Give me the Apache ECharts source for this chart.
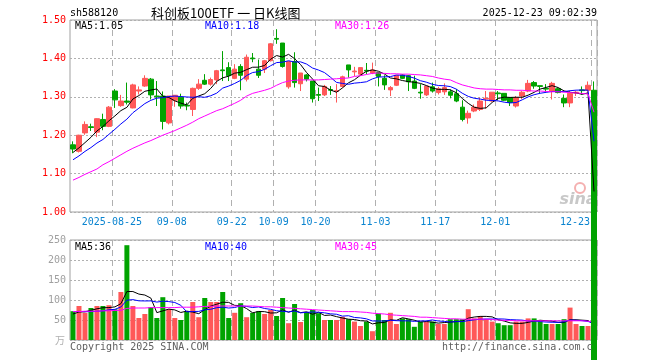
<!DOCTYPE html>
<html><head><meta charset="utf-8">
<script src="https://cdn.jsdelivr.net/npm/echarts@6/dist/echarts.min.js"></script>
<style>html,body{margin:0;padding:0;background:#fff}#c{width:660px;height:360px}</style>
</head><body><div id="c"></div>
<script>
const dates = [
'2025-08-14','2025-08-15','2025-08-18','2025-08-19','2025-08-20','2025-08-21','2025-08-22',
'2025-08-25','2025-08-26','2025-08-27','2025-08-28','2025-08-29',
'2025-09-01','2025-09-02','2025-09-03','2025-09-04','2025-09-05',
'2025-09-08','2025-09-09','2025-09-10','2025-09-11','2025-09-12',
'2025-09-15','2025-09-16','2025-09-17','2025-09-18','2025-09-19',
'2025-09-22','2025-09-23','2025-09-24','2025-09-25','2025-09-26',
'2025-09-29','2025-09-30',
'2025-10-09','2025-10-10',
'2025-10-13','2025-10-14','2025-10-15','2025-10-16','2025-10-17',
'2025-10-20','2025-10-21','2025-10-22','2025-10-23','2025-10-24',
'2025-10-27','2025-10-28','2025-10-29','2025-10-30','2025-10-31',
'2025-11-03','2025-11-04','2025-11-05','2025-11-06','2025-11-07',
'2025-11-10','2025-11-11','2025-11-12','2025-11-13','2025-11-14',
'2025-11-17','2025-11-18','2025-11-19','2025-11-20','2025-11-21',
'2025-11-24','2025-11-25','2025-11-26','2025-11-27','2025-11-28',
'2025-12-01','2025-12-02','2025-12-03','2025-12-04','2025-12-05',
'2025-12-08','2025-12-09','2025-12-10','2025-12-11','2025-12-12',
'2025-12-15','2025-12-16','2025-12-17','2025-12-18','2025-12-19',
'2025-12-22','2025-12-23'];

const opens = [
1.175,1.158,1.206,1.222,1.208,1.241,1.223,1.315,1.277,1.289,
1.271,1.315,1.328,1.346,1.302,1.302,1.232,1.291,1.299,1.278,
1.267,1.322,1.343,1.333,1.344,1.370,1.376,1.348,1.379,1.346,
1.401,1.372,1.372,1.394,1.452,1.440,1.326,1.392,1.334,1.357,
1.341,1.306,1.305,1.319,1.314,1.327,1.383,1.365,1.359,1.369,
1.362,1.363,1.348,1.318,1.330,1.357,1.355,1.341,1.312,1.305,
1.326,1.311,1.313,1.313,1.308,1.273,1.245,1.263,1.267,1.294,
1.289,1.310,1.309,1.298,1.276,1.302,1.315,1.337,1.329,1.322,
1.315,1.321,1.296,1.284,1.310,1.318,1.317,1.317];
const closes = [
1.164,1.200,1.228,1.220,1.243,1.223,1.273,1.292,1.289,1.286,
1.331,1.318,1.348,1.305,1.300,1.236,1.302,1.304,1.276,1.276,
1.322,1.333,1.333,1.345,1.368,1.368,1.355,1.372,1.356,1.403,
1.399,1.356,1.394,1.438,1.450,1.379,1.392,1.337,1.362,1.346,
1.295,1.304,1.327,1.317,1.316,1.352,1.370,1.367,1.376,1.367,
1.370,1.353,1.331,1.324,1.356,1.348,1.339,1.322,1.310,1.328,
1.315,1.321,1.324,1.304,1.289,1.241,1.257,1.273,1.289,1.296,
1.312,1.308,1.291,1.285,1.298,1.312,1.335,1.328,1.327,1.320,
1.335,1.311,1.284,1.309,1.312,1.316,1.330,0];
const lows = [
1.153,1.155,1.201,1.211,1.195,1.213,1.221,1.271,1.274,1.280,
1.270,1.306,1.326,1.293,1.276,1.215,1.228,1.274,1.269,1.265,
1.250,1.318,1.331,1.329,1.333,1.341,1.341,1.346,1.317,1.340,
1.390,1.349,1.362,1.392,1.438,1.376,1.321,1.324,1.315,1.340,
1.285,1.289,1.302,1.305,1.285,1.324,1.350,1.354,1.355,1.359,
1.359,1.327,1.318,1.302,1.328,1.346,1.315,1.320,1.295,1.302,
1.311,1.306,1.305,1.296,1.286,1.236,1.230,1.260,1.263,1.269,
1.287,1.291,1.289,1.276,1.272,1.294,1.312,1.321,1.309,1.312,
1.293,1.309,1.273,1.273,1.302,1.306,1.311,0];
const highs = [
1.184,1.201,1.236,1.230,1.244,1.256,1.276,1.320,1.305,1.337,
1.334,1.327,1.356,1.349,1.341,1.314,1.302,1.304,1.308,1.285,
1.324,1.346,1.359,1.350,1.370,1.419,1.390,1.385,1.385,1.410,
1.414,1.397,1.396,1.440,1.476,1.440,1.392,1.416,1.362,1.359,
1.341,1.324,1.331,1.328,1.333,1.355,1.383,1.378,1.376,1.388,
1.389,1.363,1.356,1.328,1.356,1.359,1.357,1.355,1.333,1.328,
1.337,1.326,1.335,1.319,1.320,1.291,1.264,1.280,1.298,1.315,
1.312,1.315,1.309,1.298,1.302,1.315,1.344,1.341,1.329,1.333,
1.339,1.324,1.306,1.315,1.315,1.327,1.340,1.340];
const volumes = [
72,85,68,80,85,85,87,77,120,237,
85,55,65,82,55,107,77,55,50,72,
95,57,105,95,95,120,55,68,92,57,
68,72,65,75,60,105,42,90,45,70,
75,67,50,50,50,58,52,46,35,46,
22,66,50,68,40,54,52,33,46,46,
46,40,40,52,52,52,77,54,60,52,
46,42,37,37,46,46,54,54,47,40,
40,40,52,81,40,35,35,3];
// closes / volumes of the sessions just before the first candle (feed the MA5 / MA10 lines)
const priorCloses = [1.10,1.11,1.12,1.125,1.13,1.14,1.16,1.15,1.161];
const priorVolumes = [80,75,78,76,76,60,65,62,66];
const ma30Price = [
1.083,1.090,1.098,1.105,1.112,1.123,1.131,1.140,1.149,1.158,
1.166,1.173,1.180,1.186,1.193,1.200,1.206,1.212,1.219,1.226,
1.234,1.243,1.250,1.257,1.264,1.269,1.276,1.283,1.291,1.302,
1.309,1.313,1.317,1.322,1.330,1.337,1.341,1.343,1.344,1.344,
1.344,1.344,1.345,1.346,1.347,1.348,1.349,1.353,1.355,1.358,
1.361,1.362,1.361,1.360,1.360,1.359,1.359,1.358,1.357,1.355,
1.353,1.349,1.346,1.344,1.337,1.331,1.327,1.323,1.321,1.320,
1.320,1.319,1.318,1.318,1.317,1.317,1.316,1.315,1.315,1.314,
1.313,1.313,1.312,1.311,1.310,1.309,1.307,1.260];
const ma30Volume = [
71,71,72,72,72,73,73,74,74,79,
80,80,80,81,81,81,81,81,82,82,
82,83,84,84,85,85,85,85,85,85,
85,84,83,83,82,81,80,79,78,77,
76,75,74,73,72,71,71,71,70,69,
67,66,65,63,62,61,60,59,57,57,
56,55,54,53,53,52,52,52,52,52,
51,50,49,49,48,48,48,48,48,48,
48,48,48,48,48,48,47,45];
const tickDates = ['2025-08-25','2025-09-08','2025-09-22','2025-10-09','2025-10-20','2025-11-03','2025-11-17','2025-12-01','2025-12-23'];
const tickLabels = ['2025-08-25','09-08','09-22','10-09','10-20','11-03','11-17','12-01','12-23'];
const priceLegend = ['MA5:1.05','MA10:1.18','MA30:1.26'];
const volumeLegend = ['MA5:36','MA10:40','MA30:45'];

function movingAvg(values, prior, n) {
  const all = prior.concat(values);
  return values.map((_, i) => {
    let s = 0;
    for (let k = i + prior.length - n + 1; k <= i + prior.length; k++) s += all[k];
    return +(s / n).toFixed(4);
  });
}

const RED = '#ff5858', GREEN = '#00a300';
const MONO = '"DejaVu Sans Mono", "Liberation Mono", monospace';
const tickSet = new Set(tickDates.map(d => dates.indexOf(d)));
const labelOf = {}; tickDates.forEach((d, k) => labelOf[d] = tickLabels[k]);

const chart = echarts.init(document.getElementById('c'), null, {renderer: 'canvas'});

function xAxisFor(gi, showLabel) {
  return {
    type: 'category', gridIndex: gi, data: dates, boundaryGap: true,
    axisLine: {show: false}, axisTick: {show: false},
    axisLabel: {
      show: showLabel, interval: (i) => tickSet.has(i), margin: 5,
      color: '#0a84d0', fontFamily: MONO, fontSize: 10, padding: [0, 6, 0, 0],
      formatter: (v) => v === '2025-12-23' ? '{r|' + labelOf[v] + '}' : labelOf[v],
      rich: {r: {padding: [0, 32, 0, 0], color: '#0a84d0', fontFamily: MONO, fontSize: 10}}
    },
    splitLine: {show: true, interval: (i) => tickSet.has(i), lineStyle: {color: '#b0b0b0', type: [6, 4], width: 1}}
  };
}

const gridBase = {left: 70, right: 63, show: true, borderColor: '#a0a0a0', borderWidth: 1, containLabel: false, outerBoundsMode: 'none'};

const palette = ['#000000', '#0000ff', '#ff00ff'];
const textEl = (x, y, text, fill, font, align) => ({
  type: 'text', x: x, y: y, silent: true, z: 100,
  style: {text: text, fill: fill, font: font, align: align || 'left', verticalAlign: 'middle'}
});

chart.setOption({
  animation: false,
  backgroundColor: '#ffffff',
  grid: [
    Object.assign({top: 20, height: 192}, gridBase),
    Object.assign({top: 240, height: 100}, gridBase)
  ],
  xAxis: [xAxisFor(0, true), xAxisFor(1, false)],
  yAxis: [
    {type: 'value', gridIndex: 0, min: 1.0, max: 1.5, interval: 0.1, scale: true,
     axisLine: {show: false}, axisTick: {show: false},
     axisLabel: {color: '#ff0000', fontFamily: MONO, fontSize: 10, margin: 4, formatter: (v) => v.toFixed(2)},
     splitLine: {lineStyle: {color: '#b0b0b0', type: [2, 2], width: 1}}},
    {type: 'value', gridIndex: 1, min: 0, max: 250, interval: 50,
     axisLine: {show: false}, axisTick: {show: false},
     axisLabel: {color: '#a0a0a0', fontFamily: MONO, fontSize: 10, margin: 4, showMinLabel: false},
     splitLine: {lineStyle: {color: '#b0b0b0', type: [2, 2], width: 1}}}
  ],
  series: [
    {type: 'bar', xAxisIndex: 1, yAxisIndex: 1, barWidth: 5, silent: true, z: 2,
     data: volumes.map((v, i) => ({value: v, itemStyle: {color: closes[i] >= opens[i] ? RED : GREEN}}))},
    {type: 'line', xAxisIndex: 1, yAxisIndex: 1, data: movingAvg(volumes, priorVolumes, 5), symbol: 'none', silent: true, z: 3, lineStyle: {color: palette[0], width: 1}},
    {type: 'line', xAxisIndex: 1, yAxisIndex: 1, data: movingAvg(volumes, priorVolumes, 10), symbol: 'none', silent: true, z: 3, lineStyle: {color: palette[1], width: 1}},
    {type: 'line', xAxisIndex: 1, yAxisIndex: 1, data: ma30Volume, symbol: 'none', silent: true, z: 3, lineStyle: {color: palette[2], width: 1}},
    {type: 'line', xAxisIndex: 0, yAxisIndex: 0, data: movingAvg(closes, priorCloses, 5), symbol: 'none', silent: true, z: 6, lineStyle: {color: palette[0], width: 1}},
    {type: 'line', xAxisIndex: 0, yAxisIndex: 0, data: movingAvg(closes, priorCloses, 10), symbol: 'none', silent: true, z: 6, lineStyle: {color: palette[1], width: 1}},
    {type: 'line', xAxisIndex: 0, yAxisIndex: 0, data: ma30Price, symbol: 'none', silent: true, z: 6, lineStyle: {color: palette[2], width: 1}},
    {type: 'candlestick', xAxisIndex: 0, yAxisIndex: 0, barWidth: 5, clip: false, silent: true, z: 5,
     data: opens.map((o, i) => [o, closes[i], lows[i], highs[i]]),
     itemStyle: {color: RED, color0: GREEN, borderColor: RED, borderColor0: GREEN, borderWidth: 1}}
  ],
  graphic: [
    textEl(70, 13, 'sh588120', '#000', '10px ' + MONO),
    textEl(151, 13, '科创板100ETF 一 日K线图', '#000', '13px "Noto Sans CJK SC"'),
    textEl(597, 13, '2025-12-23 09:02:39', '#000', '10px ' + MONO, 'right'),
    textEl(75, 26, priceLegend[0], palette[0], '10px ' + MONO),
    textEl(205, 26, priceLegend[1], palette[1], '10px ' + MONO),
    textEl(335, 26, priceLegend[2], palette[2], '10px ' + MONO),
    textEl(75, 247, volumeLegend[0], palette[0], '10px ' + MONO),
    textEl(205, 247, volumeLegend[1], palette[1], '10px ' + MONO),
    textEl(335, 247, volumeLegend[2], palette[2], '10px ' + MONO),
    textEl(70, 347, 'Copyright 2025 SINA.COM', '#606060', '10px ' + MONO),
    textEl(442, 347, 'http://finance.sina.com.c', '#606060', '10px ' + MONO),
    textEl(65, 340, '万', '#b0b0b0', '10px "Noto Sans CJK SC"', 'right'),
    {type: 'circle', silent: true, z: 1, shape: {cx: 580, cy: 188, r: 5}, style: {fill: 'none', stroke: '#f4b0b0', lineWidth: 2}},
    {type: 'text', silent: true, z: 1, x: 578, y: 200, style: {text: 'sina', fill: '#c8c8c8', font: 'italic bold 16px "DejaVu Sans"', align: 'center', verticalAlign: 'middle'}}
  ]
});
</script></body></html>
